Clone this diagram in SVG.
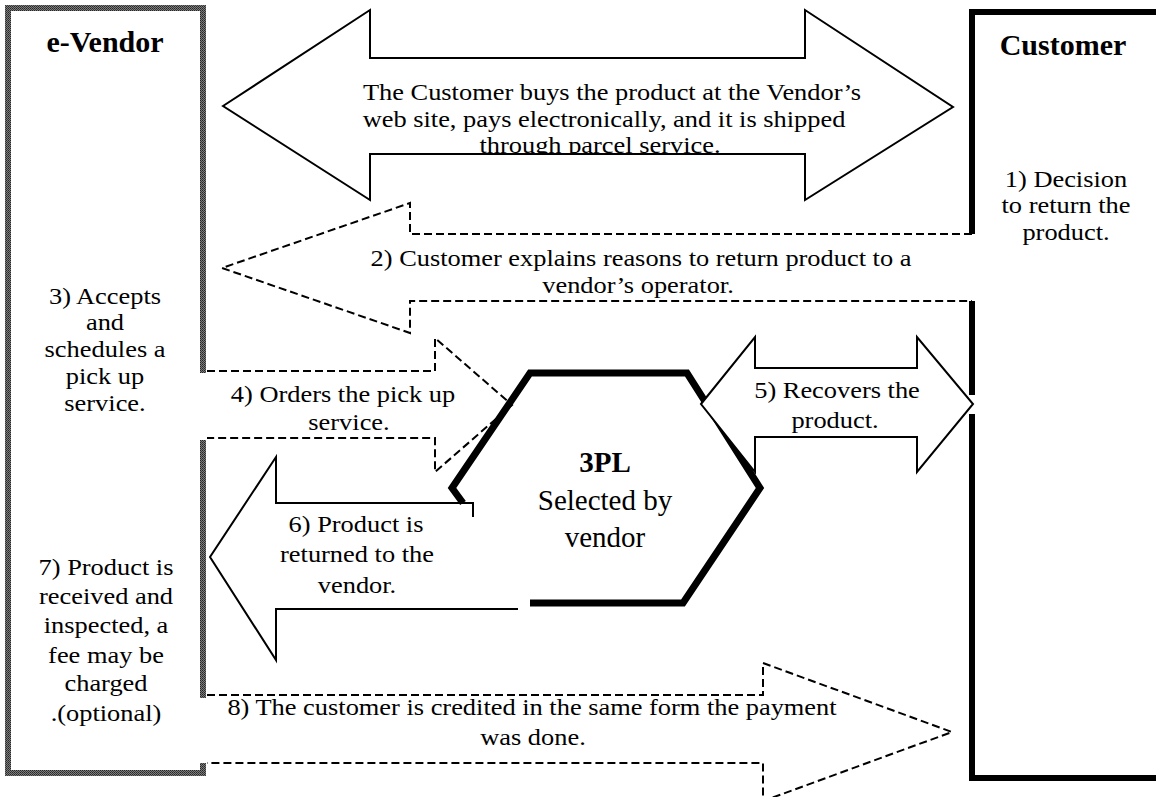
<svg xmlns="http://www.w3.org/2000/svg" width="1156" height="797" viewBox="0 0 1156 797">
  <style>
    .t { font-family: "Liberation Serif", "Times New Roman", serif; font-size: 24px; text-anchor: middle; fill: #000; }
    .title { font-weight: bold; font-size: 30px; }
    .hexl { font-size: 29px; }
    .solid { fill: #fff; stroke: #000; stroke-width: 2; stroke-linejoin: miter; }
    .line { fill: none; stroke: #000; stroke-width: 2; }
    .dash { fill: none; stroke: #000; stroke-width: 2; stroke-dasharray: 8 4; }
  </style>
  <defs>
    <!-- fine checker halftone used for the vendor frame -->
    <pattern id="halftone" width="2" height="2" patternUnits="userSpaceOnUse">
      <rect width="2" height="2" fill="#7c7c7c"/>
      <rect x="0" y="0" width="1" height="1" fill="#262626"/>
      <rect x="1" y="1" width="1" height="1" fill="#3a3a3a"/>
    </pattern>
    <clipPath id="clipTop"><rect x="200" y="58" width="800" height="96"/></clipPath>
    <clipPath id="clip2"><rect x="200" y="234" width="800" height="67"/></clipPath>
    <clipPath id="clip4"><rect x="200" y="371" width="320" height="67"/></clipPath>
  </defs>
  <rect width="1156" height="797" fill="#fff"/>

  <!-- e-Vendor column -->
  <g id="vendor">
    <path d="M203,373 V8 H8 V773 H203 V763 M203,440 V698" fill="none" stroke="url(#halftone)" stroke-width="6"/>
    <text class="t title" x="105" y="52">e-Vendor</text>
    <text class="t" transform="translate(105,304) scale(1.1,1)">3) Accepts</text>
    <text class="t" transform="translate(105,330) scale(1.1,1)">and</text>
    <text class="t" transform="translate(105,357) scale(1.1,1)">schedules a</text>
    <text class="t" transform="translate(105,384) scale(1.1,1)">pick up</text>
    <text class="t" transform="translate(105,411) scale(1.1,1)">service.</text>
    <text class="t" transform="translate(106,575) scale(1.1,1)">7) Product is</text>
    <text class="t" transform="translate(106,604) scale(1.1,1)">received and</text>
    <text class="t" transform="translate(106,633) scale(1.1,1)">inspected, a</text>
    <text class="t" transform="translate(106,663) scale(1.1,1)">fee may be</text>
    <text class="t" transform="translate(106,691) scale(1.1,1)">charged</text>
    <text class="t" transform="translate(106,721) scale(1.1,1)">.(optional)</text>
  </g>

  <!-- Customer column -->
  <g id="customer">
    <path d="M972,234 V12 H1160 M972,301 V395 M972,414 V778 H1160" fill="none" stroke="#000" stroke-width="6"/>
    <text class="t title" x="1063" y="55">Customer</text>
    <text class="t" transform="translate(1066,187) scale(1.1,1)">1) Decision</text>
    <text class="t" transform="translate(1066,213) scale(1.1,1)">to return the</text>
    <text class="t" transform="translate(1066,240) scale(1.1,1)">product.</text>
  </g>

  <!-- third-party logistics provider -->
  <g id="threepl">
    <polygon points="452,488 530,373 687,373 760,488 683,603 530,603" fill="#fff" stroke="none"/>
    <path d="M463,503 L452,488 L530,373 H687 L760,488 L683,603 H530" fill="none" stroke="#000" stroke-width="7" stroke-linejoin="miter"/>
    <text class="t title hexl" x="605" y="472">3PL</text>
    <text class="t hexl" x="605" y="510">Selected by</text>
    <text class="t hexl" x="605" y="547">vendor</text>
  </g>

  <g id="connectors">
    <!-- purchase: two-way block arrow -->
    <g id="purchase">
      <polygon class="solid" points="223,106 370,10 370,58 805,58 805,10 953,107 805,200 805,154 370,154 370,200"/>
      <g clip-path="url(#clipTop)">
        <text class="t" transform="translate(612,100) scale(1.1,1)">The Customer buys the product at the Vendor’s</text>
        <text class="t" transform="translate(604,126.5) scale(1.1,1)">web site, pays electronically, and it is shipped</text>
        <text class="t" transform="translate(600,153) scale(1.1,1)">through parcel service.</text>
      </g>
    </g>

    <!-- step 2: customer to vendor -->
    <g id="step2">
      <path class="dash" d="M972,234 H410 V203 L222,268 L410,333 V301 H972"/>
      <g clip-path="url(#clip2)">
        <text class="t" transform="translate(641,266) scale(1.1,1)">2) Customer explains reasons to return product to a</text>
        <text class="t" transform="translate(638,293) scale(1.1,1)">vendor’s operator.</text>
      </g>
    </g>

    <!-- step 4: vendor orders pick up -->
    <g id="step4">
      <path class="dash" d="M207,371 H435 V338 L512,405 L435,472 V438 H207"/>
      <g clip-path="url(#clip4)">
        <text class="t" transform="translate(343,402) scale(1.1,1)">4) Orders the pick up</text>
        <text class="t" transform="translate(349,430) scale(1.1,1)">service.</text>
      </g>
    </g>

    <!-- step 5: 3PL recovers product -->
    <g id="step5">
      <polygon class="solid" points="701,404 755,337 755,368 917,368 917,337 973,404 917,472 917,437 755,437 755,472"/>
      <text class="t" transform="translate(837,398) scale(1.1,1)">5) Recovers the</text>
      <text class="t" transform="translate(835,428) scale(1.1,1)">product.</text>
    </g>

    <!-- step 6: product returned to vendor -->
    <g id="step6">
      <path class="line" d="M473,517 V503 H276 V457 L210,557 L276,660 V609 H518"/>
      <text class="t" transform="translate(356,532) scale(1.1,1)">6) Product is</text>
      <text class="t" transform="translate(357,562) scale(1.1,1)">returned to the</text>
      <text class="t" transform="translate(357,593) scale(1.1,1)">vendor.</text>
    </g>

    <!-- step 8: customer credited -->
    <g id="step8">
      <path class="dash" d="M207,695 H763 V663 L952,732 L763,801 V763 H207"/>
      <text class="t" transform="translate(532,715) scale(1.1,1)">8) The customer is credited in the same form the payment</text>
      <text class="t" transform="translate(533,745) scale(1.1,1)">was done.</text>
    </g>
  </g>
</svg>
